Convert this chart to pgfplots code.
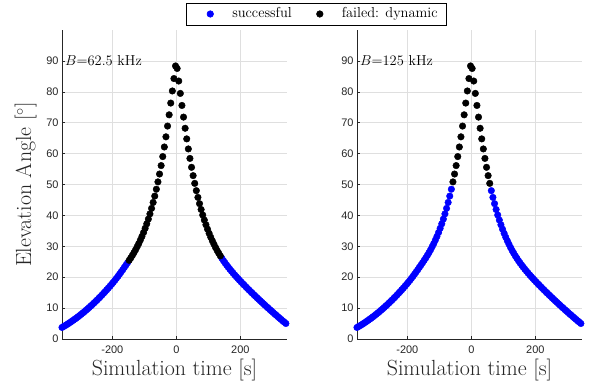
\documentclass[border=0pt]{standalone}
\usepackage{fontspec}
\usepackage{pgfplots}
\pgfplotsset{compat=1.18}
\usepackage{pgfplotstable}
\newfontfamily\ticksf{Liberation Sans}
\definecolor{okblue}{RGB}{0,0,255}
\definecolor{axgray}{RGB}{38,38,38}
\definecolor{gridgray}{RGB}{223,223,223}

% segment A: left tail (blue in both panels)
\pgfplotstableread{
t el
-357.5 3.74
-352.5 4.04
-347.5 4.35
-342.5 4.67
-337.5 5.00
-332.5 5.34
-327.5 5.69
-322.5 6.05
-317.5 6.42
-312.5 6.80
-307.5 7.19
-302.5 7.59
-297.5 8.00
-292.5 8.42
-287.5 8.85
-282.5 9.29
-277.5 9.74
-272.5 10.20
-267.5 10.67
-262.5 11.15
-257.5 11.64
-252.5 12.14
-247.5 12.65
-242.5 13.17
-237.5 13.70
-232.5 14.24
-227.5 14.79
-222.5 15.35
-217.5 15.92
-212.5 16.50
-207.5 17.09
-202.5 17.69
-197.5 18.31
-192.5 18.95
-187.5 19.61
-182.5 20.29
-177.5 20.99
-172.5 21.71
-167.5 22.44
-162.5 23.18
-157.5 23.93
-152.5 24.69
}\tabA
% segment B: left flank
\pgfplotstableread{
t el
-147.5 25.46
-142.5 26.24
-137.5 27.06
-132.5 27.94
-127.5 28.86
-122.5 29.85
-117.5 30.89
-112.5 32.01
-107.5 33.19
-102.5 34.46
-97.5 35.82
-92.5 37.27
-87.5 38.82
-82.5 40.49
-77.5 42.27
-72.5 44.19
-67.5 46.25
-62.5 48.47
}\tabB
% segment C: peak (failed in both panels)
\pgfplotstableread{
t el
-57.5 50.84
-52.5 53.39
-47.5 56.12
-42.5 59.04
-37.5 62.14
-32.5 65.43
-27.5 68.91
-22.5 72.55
-17.5 76.35
-12.5 80.27
-7.5 84.29
-2.5 88.36
2.5 87.55
7.5 83.48
12.5 79.48
17.5 75.58
22.5 71.81
27.5 68.20
32.5 64.76
37.5 61.51
42.5 58.44
47.5 55.56
52.5 52.87
57.5 50.36
}\tabC
% segment D: right flank
\pgfplotstableread{
t el
62.5 48.01
67.5 45.83
72.5 43.80
77.5 41.91
82.5 40.14
87.5 38.50
92.5 36.97
97.5 35.54
102.5 34.20
107.5 32.95
112.5 31.78
117.5 30.68
122.5 29.64
127.5 28.67
132.5 27.76
137.5 26.90
}\tabD
% segment E: right tail (blue in both panels)
\pgfplotstableread{
t el
142.5 26.09
147.5 25.32
152.5 24.59
157.5 23.89
162.5 23.22
167.5 22.57
172.5 21.94
177.5 21.33
182.5 20.74
187.5 20.16
192.5 19.59
197.5 19.03
202.5 18.48
207.5 17.94
212.5 17.41
217.5 16.88
222.5 16.36
227.5 15.84
232.5 15.33
237.5 14.82
242.5 14.32
247.5 13.82
252.5 13.33
257.5 12.84
262.5 12.35
267.5 11.87
272.5 11.39
277.5 10.91
282.5 10.44
287.5 9.97
292.5 9.50
297.5 9.04
302.5 8.58
307.5 8.12
312.5 7.67
317.5 7.22
322.5 6.77
327.5 6.33
332.5 5.89
337.5 5.45
342.5 5.02
}\tabE

\pgfplotsset{
  myaxis/.style={
    scale only axis, width=225bp, height=309bp,
    xmin=-357.5, xmax=346, ymin=0, ymax=100,
    xtick={-200,0,200}, ytick={0,10,...,90},
    axis x line*=bottom, axis y line*=left,
    axis line style={-, draw=axgray, line width=0.5pt},
    tick align=inside, major tick length=3bp,
    tick style={draw=axgray, line width=0.5pt},
    grid=major, grid style={draw=gridgray, line width=0.5pt},
    ticklabel style={font=\ticksf\fontsize{11}{13}\selectfont, text=axgray},
    xticklabel shift=3bp,
    /pgf/number format/assume math mode=true,
    xlabel={Simulation time [s]},
    xlabel style={font=\fontsize{22}{26}\selectfont, text=axgray,
      at={(axis description cs:0.5,-0.1003)}, anchor=center},
    clip=false,
  },
  okpts/.style={only marks, mark=*, mark size=3.3bp, draw=okblue, fill=okblue},
  failpts/.style={only marks, mark=*, mark size=3.3bp, draw=black, fill=black},
}

\begin{document}
\begin{tikzpicture}
\path[use as bounding box] (-62bp,-49bp) rectangle (534bp,339bp);
\begin{axis}[myaxis, at={(0bp,0bp)}, anchor=south west,
  ylabel={Elevation Angle [$^\circ$]},
  ylabel style={font=\fontsize{22}{26}\selectfont, text=axgray,
    at={(axis description cs:-0.162,0.5)}, anchor=center},
  legend columns=2,
  legend style={at={(1.131,1.0518)}, anchor=center, draw=black, line width=0.5pt,
    inner xsep=9bp, inner ysep=4.5bp,
    font=\fontsize{14.5}{16}\selectfont,
    nodes={inner sep=0pt, text height=10bp, text depth=3bp, text=black},
    /tikz/every odd column/.append style={column sep=14bp},
    /tikz/every even column/.append style={column sep=13bp}},
  legend image code/.code={\path[draw=none, fill=none] (0bp,0bp) -- (23bp,0bp);
    \filldraw[#1] (15bp,0bp) circle[radius=3.3bp];},
]
\addlegendimage{okpts}
\addlegendentry{successful}
\addlegendimage{failpts}
\addlegendentry{failed: dynamic}
\addplot[okpts, forget plot] table[x=t, y=el] {\tabA};
\addplot[okpts, forget plot] table[x=t, y=el] {\tabE};
\addplot[failpts, forget plot] table[x=t, y=el] {\tabB};
\addplot[failpts, forget plot] table[x=t, y=el] {\tabC};
\addplot[failpts, forget plot] table[x=t, y=el] {\tabD};
\node[anchor=west, inner sep=0pt, xshift=3bp, font=\fontsize{14.5}{16}\selectfont, text=black]
  at (axis cs:-357.5,90) {$B$=62.5 kHz};
\end{axis}

\begin{axis}[myaxis, at={(295bp,0bp)}, anchor=south west]
\addplot[okpts] table[x=t, y=el] {\tabA};
\addplot[okpts] table[x=t, y=el] {\tabB};
\addplot[okpts] table[x=t, y=el] {\tabD};
\addplot[okpts] table[x=t, y=el] {\tabE};
\addplot[failpts] table[x=t, y=el] {\tabC};
\node[anchor=west, inner sep=0pt, xshift=3bp, font=\fontsize{14.5}{16}\selectfont, text=black]
  at (axis cs:-357.5,90) {$B$=125 kHz};
\end{axis}
\end{tikzpicture}
\end{document}
